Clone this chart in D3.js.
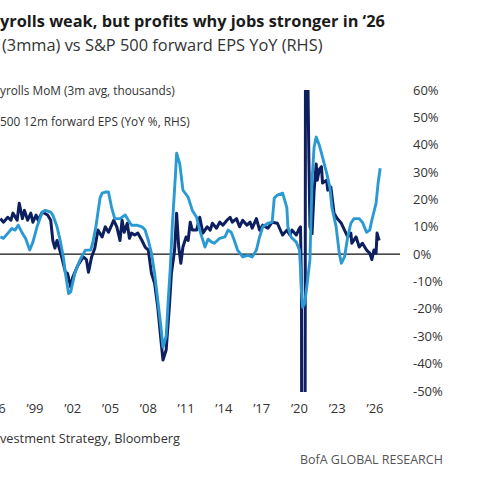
<!DOCTYPE html>
<html>
<head>
<meta charset="utf-8">
<script src="https://cdn.jsdelivr.net/npm/d3@7"></script>
<style>
  html, body { margin: 0; padding: 0; background: #fff; }
  svg { display: block; }
</style>
</head>
<body>
<div class="chart"></div>
<script>
// payrolls, 3m avg MoM change (thousands) - left axis (cropped off)
const payDates = ["1996-04","1996-07","1996-11","1997-02","1997-04","1997-08","1997-10","1998-01","1998-03","1998-06","1998-09","1998-11",
  "1999-02","1999-04","1999-08","2000-01","2000-04","2000-06","2000-08","2000-10","2001-02","2001-06","2001-08","2001-11",
  "2002-01","2002-06","2002-11","2003-02","2003-04","2003-07","2003-10","2004-01","2004-05","2004-08","2004-11","2005-02",
  "2005-04","2005-07","2005-10","2005-12","2006-02","2006-05","2006-07","2006-09","2006-12","2007-03","2007-07","2007-10",
  "2008-01","2008-04","2008-07","2008-10","2009-01","2009-03","2009-06","2009-09","2009-11","2010-02","2010-04","2010-06",
  "2010-08","2010-10","2011-01","2011-03","2011-05","2011-07","2011-11","2012-02","2012-05","2012-09","2012-12","2013-02",
  "2013-06","2013-09","2013-12","2014-04","2014-07","2014-09","2015-01","2015-04","2015-07","2015-11","2016-02","2016-04",
  "2016-08","2016-11","2017-02","2017-07","2017-11","2018-04","2018-09","2019-01","2019-04","2019-06","2019-10","2020-01",
  "2020-02","2020-03","2020-04","2020-05","2020-06","2020-07","2020-08","2020-09","2020-10","2020-11","2020-12","2021-01",
  "2021-03","2021-05","2021-06","2021-08","2021-10","2021-11","2022-03","2022-04","2022-07","2022-10","2023-01","2023-05",
  "2023-08","2023-11","2024-02","2024-03","2024-07","2024-10","2025-01","2025-05","2025-08","2025-10","2025-12","2026-02",
  "2026-03","2026-05"];
const payValues = [260,234,270,248,300,248,372,260,320,248,300,234,
  286,248,308,286,248,100,44,100,-8,-132,-140,-240,
  -168,-80,-20,-40,-132,-20,44,176,126,200,160,212,
  248,200,100,248,160,226,116,154,140,154,100,52,
  30,-140,-212,-388,-628,-774,-700,-388,-140,30,300,52,
  -66,52,126,100,234,176,176,270,154,200,176,226,
  190,234,212,248,270,234,260,200,248,212,234,190,
  260,176,212,190,234,226,140,176,140,176,140,190,
  200,-270,-7200,-6400,-4300,3070,2670,1300,700,200,180,150,
  460,660,540,620,640,520,540,468,490,300,260,226,
  176,126,154,80,126,52,80,30,8,-40,30,8,
  154,100];

// S&P 500 12m forward EPS, YoY % - right axis
const epsDates = ["1996-04","1996-07","1996-11","1997-03","1997-06","1997-09","1998-01","1998-04","1998-08","1998-11","1999-03","1999-08",
  "1999-11","2000-04","2000-06","2000-10","2001-01","2001-04","2001-06","2001-09","2001-11","2002-03","2002-08","2003-01",
  "2003-06","2003-08","2003-11","2004-03","2004-05","2004-08","2004-11","2005-02","2005-05","2005-10","2006-03","2006-06",
  "2006-09","2007-02","2007-07","2007-10","2008-01","2008-04","2008-07","2008-10","2009-01","2009-03","2009-06","2009-08",
  "2009-10","2009-12","2010-03","2010-04","2010-07","2010-10","2011-03","2011-07","2011-11","2012-02","2012-07","2012-10",
  "2013-01","2013-04","2013-09","2014-02","2014-05","2014-08","2014-11","2015-02","2015-07","2015-12","2016-04","2016-08",
  "2016-11","2017-02","2017-07","2017-11","2018-01","2018-04","2018-09","2019-01","2019-02","2019-05","2019-10","2020-01",
  "2020-02","2020-03","2020-04","2020-06","2020-08","2020-11","2020-12","2021-01","2021-03","2021-05","2021-08","2021-11",
  "2022-03","2022-06","2022-08","2022-12","2023-03","2023-05","2023-08","2023-11","2024-02","2024-05","2024-10","2025-01",
  "2025-05","2025-08","2025-10","2026-02","2026-04","2026-06"];
const epsValues = [6.3,5.8,7.6,9.4,8.8,10.6,7.6,5.8,1.5,4.4,10,15.4,
  16,15.4,14.3,10,5,-1,-7,-14.4,-13.8,-7,-2,1.5,
  1.5,4,10,20.5,22.3,22.7,22.7,17,13,13,14.3,12.4,
  10.6,10.6,10,8.8,5,0.4,-7,-16.8,-26.6,-34,-30,-16.8,
  -4.7,11.3,29.6,36.9,33,23.4,20.8,16,13.5,8.8,2.6,5.5,
  4.5,4,5.8,6.3,8.8,8,5,1.5,-1,-0.4,-1,1.5,
  6.3,10,11.3,11.7,20.5,21.6,22.3,17,10,6.3,4.4,1.5,
  -5,-14,-19.4,-18,-12,-2,12.4,27,39,42.8,39.8,35.5,
  29.6,24.5,17,10,0.4,-3.3,-1,6.3,11.3,13,13,11.7,
  8,8.8,12.4,18.6,26,31.4];

const yearTicks = d3.range(1996, 2027, 3);
const pctTicks = d3.range(-50, 61, 10);

const W = 479, H = 478;
const fontFamily = "'Open Sans', 'Noto Sans', sans-serif";
const parse = d3.timeParse("%Y-%m");

const payroll = payDates.map((d, i) => ({ date: parse(d), value: payValues[i] }));
const eps = epsDates.map((d, i) => ({ date: parse(d), value: epsValues[i] }));

const svg = d3.select(".chart").append("svg")
    .attr("width", W)
    .attr("height", H)
    .style("font-family", fontFamily);

const x = d3.scaleTime()
    .domain([new Date(1999, 0, 1), new Date(2026, 0, 1)])
    .range([35, 375]);
const yR = d3.scaleLinear().domain([-50, 60]).range([391, 90]);
const yL = d3.scaleLinear().domain([-1000, 1200]).range([391, 90]);

// size a text so its width matches the reference
function fitText(sel, width) {
    const w = sel.node().getComputedTextLength();
    const fs = parseFloat(sel.attr("font-size"));
    sel.attr("font-size", fs * width / w);
}

const texts = [
    { t: "yrolls weak, but profits why jobs stronger in \u201826", x: 0, y: 27, w: 385, size: 20, weight: "bold", fill: "#1b1b1b" },
    { t: "(3mma) vs S&P 500 forward EPS YoY (RHS)", x: 2, y: 51, w: 321, size: 17, weight: "normal", fill: "#333" },
    { t: "yrolls MoM (3m avg, thousands)", x: 0, y: 95, w: 175, size: 13.5, weight: "normal", fill: "#333" },
    { t: "500 12m forward EPS (YoY %, RHS)", x: 0, y: 126, w: 190, size: 13.5, weight: "normal", fill: "#333" },
    { t: "vestment Strategy, Bloomberg", x: 0, y: 443, w: 180, size: 13.5, weight: "normal", fill: "#333" },
    { t: "BofA GLOBAL RESEARCH", x: 300, y: 464, w: 143, size: 13, weight: "normal", fill: "#555" }
];
texts.forEach(d => {
    const t = svg.append("text")
        .attr("x", d.x)
        .attr("y", d.y)
        .attr("font-size", d.size)
        .attr("font-weight", d.weight)
        .attr("fill", d.fill)
        .text(d.t);
    fitText(t, d.w);
});

svg.append("clipPath").attr("id", "plot")
    .append("rect")
    .attr("x", 0).attr("y", 90)
    .attr("width", 400).attr("height", 302);

// zero line
svg.append("line")
    .attr("x1", 0).attr("x2", 400)
    .attr("y1", yR(0)).attr("y2", yR(0))
    .attr("stroke", "#111")
    .attr("stroke-width", 1.3);

const plot = svg.append("g").attr("clip-path", "url(#plot)");

plot.append("path")
    .datum(payroll)
    .attr("fill", "none")
    .attr("stroke", "#0d1f5e")
    .attr("stroke-width", 3)
    .attr("stroke-linejoin", "round")
    .attr("d", d3.line().x(d => x(d.date)).y(d => yL(d.value)));

plot.append("path")
    .datum(eps)
    .attr("fill", "none")
    .attr("stroke", "#2b9ad3")
    .attr("stroke-width", 2.9)
    .attr("stroke-linejoin", "round")
    .attr("d", d3.line().x(d => x(d.date)).y(d => yR(d.value)));

// right axis labels
svg.append("g").selectAll("text")
    .data(pctTicks)
    .enter()
    .append("text")
    .attr("x", 413)
    .attr("y", d => yR(d))
    .attr("dy", "0.35em")
    .attr("font-size", 13)
    .attr("fill", "#333")
    .text(d => `${d}%`);

// x axis labels ('96 is cut at the left edge, as in the source)
svg.append("g").selectAll("text")
    .data(yearTicks)
    .enter()
    .append("text")
    .attr("x", d => x(new Date(d, 0, 1)))
    .attr("y", 413)
    .attr("text-anchor", "middle")
    .attr("font-size", 13)
    .attr("fill", "#333")
    .text(d => "\u2019" + String(d).slice(2));
</script>
</body>
</html>
